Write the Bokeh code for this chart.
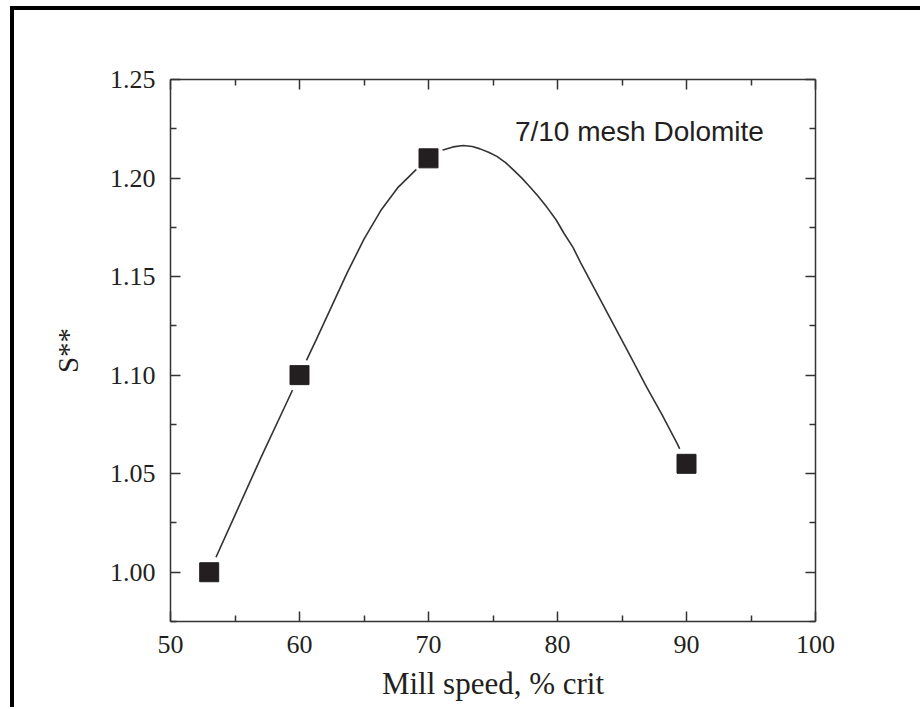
from bokeh.plotting import figure
from bokeh.models import Range1d, FixedTicker, PrintfTickFormatter, LinearAxis, Label, CustomJSTickFormatter
from bokeh.embed import file_html
from bokeh.resources import INLINE

# measured points
speed = [53, 60, 70, 90]
s_value = [1.00, 1.10, 1.21, 1.055]

# smooth guide curve
curve_x = [53, 55, 57, 59, 60, 61.3, 62.5, 63.7, 65, 66.3, 67.6, 69, 70, 71, 71.9, 72.7, 73.4, 74,
           74.7, 75.3, 76.0, 76.6, 77.2, 77.8, 78.5, 79.2, 79.9, 80.5, 81.2, 81.8, 83.1, 84.4,
           85.7, 86.9, 88.1, 89.3, 90]
curve_y = [1.000, 1.029, 1.058, 1.086, 1.100, 1.118, 1.135, 1.152, 1.169, 1.1835, 1.195, 1.204,
           1.210, 1.214, 1.2158, 1.2165, 1.2160, 1.2148, 1.2130, 1.211, 1.2077, 1.204, 1.2002,
           1.196, 1.1908, 1.185, 1.1787, 1.172, 1.1648, 1.157, 1.141, 1.125, 1.109, 1.094,
           1.080, 1.065, 1.055]

x_ticks = [50, 60, 70, 80, 90, 100]
x_minor = [55, 65, 75, 85, 95]
y_ticks = [1.00, 1.05, 1.10, 1.15, 1.20, 1.25]
y_minor = [0.975, 1.025, 1.075, 1.125, 1.175, 1.225]

INK = "#231f20"
AX = "#333333"
SERIF = "Liberation Serif"

p = figure(frame_width=645, frame_height=542,
           min_border_left=156, min_border_right=105, min_border_top=69, min_border_bottom=86,
           x_range=Range1d(50, 100), y_range=Range1d(0.975, 1.25),
           output_backend="svg", toolbar_location=None)
p.styles = {"margin-left": "10px", "margin-top": "6px",
            "border-top": "4px solid black", "border-left": "4px solid black"}
p.grid.visible = False
p.outline_line_color = None
p.background_fill_color = "white"
p.border_fill_color = "white"

def style_axis(ax, ticks, minor, labels=True):
    ax.ticker = FixedTicker(ticks=ticks, minor_ticks=minor)
    ax.axis_line_color = AX
    ax.axis_line_width = 1.5
    ax.major_tick_line_color = AX
    ax.major_tick_line_width = 1.5
    ax.minor_tick_line_color = AX
    ax.minor_tick_line_width = 1.5
    ax.major_tick_in = 10
    ax.major_tick_out = 0
    ax.minor_tick_in = 6
    ax.minor_tick_out = 0
    ax.major_label_text_font = SERIF
    ax.major_label_text_font_size = "26px"
    ax.major_label_text_color = INK
    ax.axis_label_text_font = SERIF
    ax.axis_label_text_font_style = "normal"
    ax.axis_label_text_color = INK
    if not labels:
        ax.formatter = CustomJSTickFormatter(code="return ''")
        ax.major_label_standoff = 0

xa = p.xaxis[0]
style_axis(xa, x_ticks, x_minor)
xa.axis_label = "Mill speed, % crit"
xa.axis_label_text_font_size = "31px"
xa.major_label_standoff = 14
xa.axis_label_standoff = 10

ya = p.yaxis[0]
style_axis(ya, y_ticks, y_minor)
ya.formatter = PrintfTickFormatter(format="%.2f")
ya.axis_label = "S**"
ya.axis_label_text_font_size = "29px"
ya.major_label_standoff = 15
ya.axis_label_standoff = 23

top = LinearAxis()
style_axis(top, x_ticks, x_minor, labels=False)
p.add_layout(top, "above")
right = LinearAxis()
style_axis(right, y_ticks, y_minor, labels=False)
p.add_layout(right, "right")

p.line(curve_x, curve_y, line_color=AX, line_width=1.6)
p.scatter(speed, s_value, marker="circle", size=33, fill_color="white", line_color=None)
p.scatter(speed, s_value, marker="square", size=19, fill_color=INK, line_color=INK, line_width=1)

p.add_layout(Label(x=76.7, y=1.2236, text="7/10 mesh Dolomite", text_font="Liberation Sans",
                   text_font_size="28px", text_color=INK, text_align="left",
                   text_baseline="alphabetic"))

open("out.html", "w").write(file_html(p, INLINE))
